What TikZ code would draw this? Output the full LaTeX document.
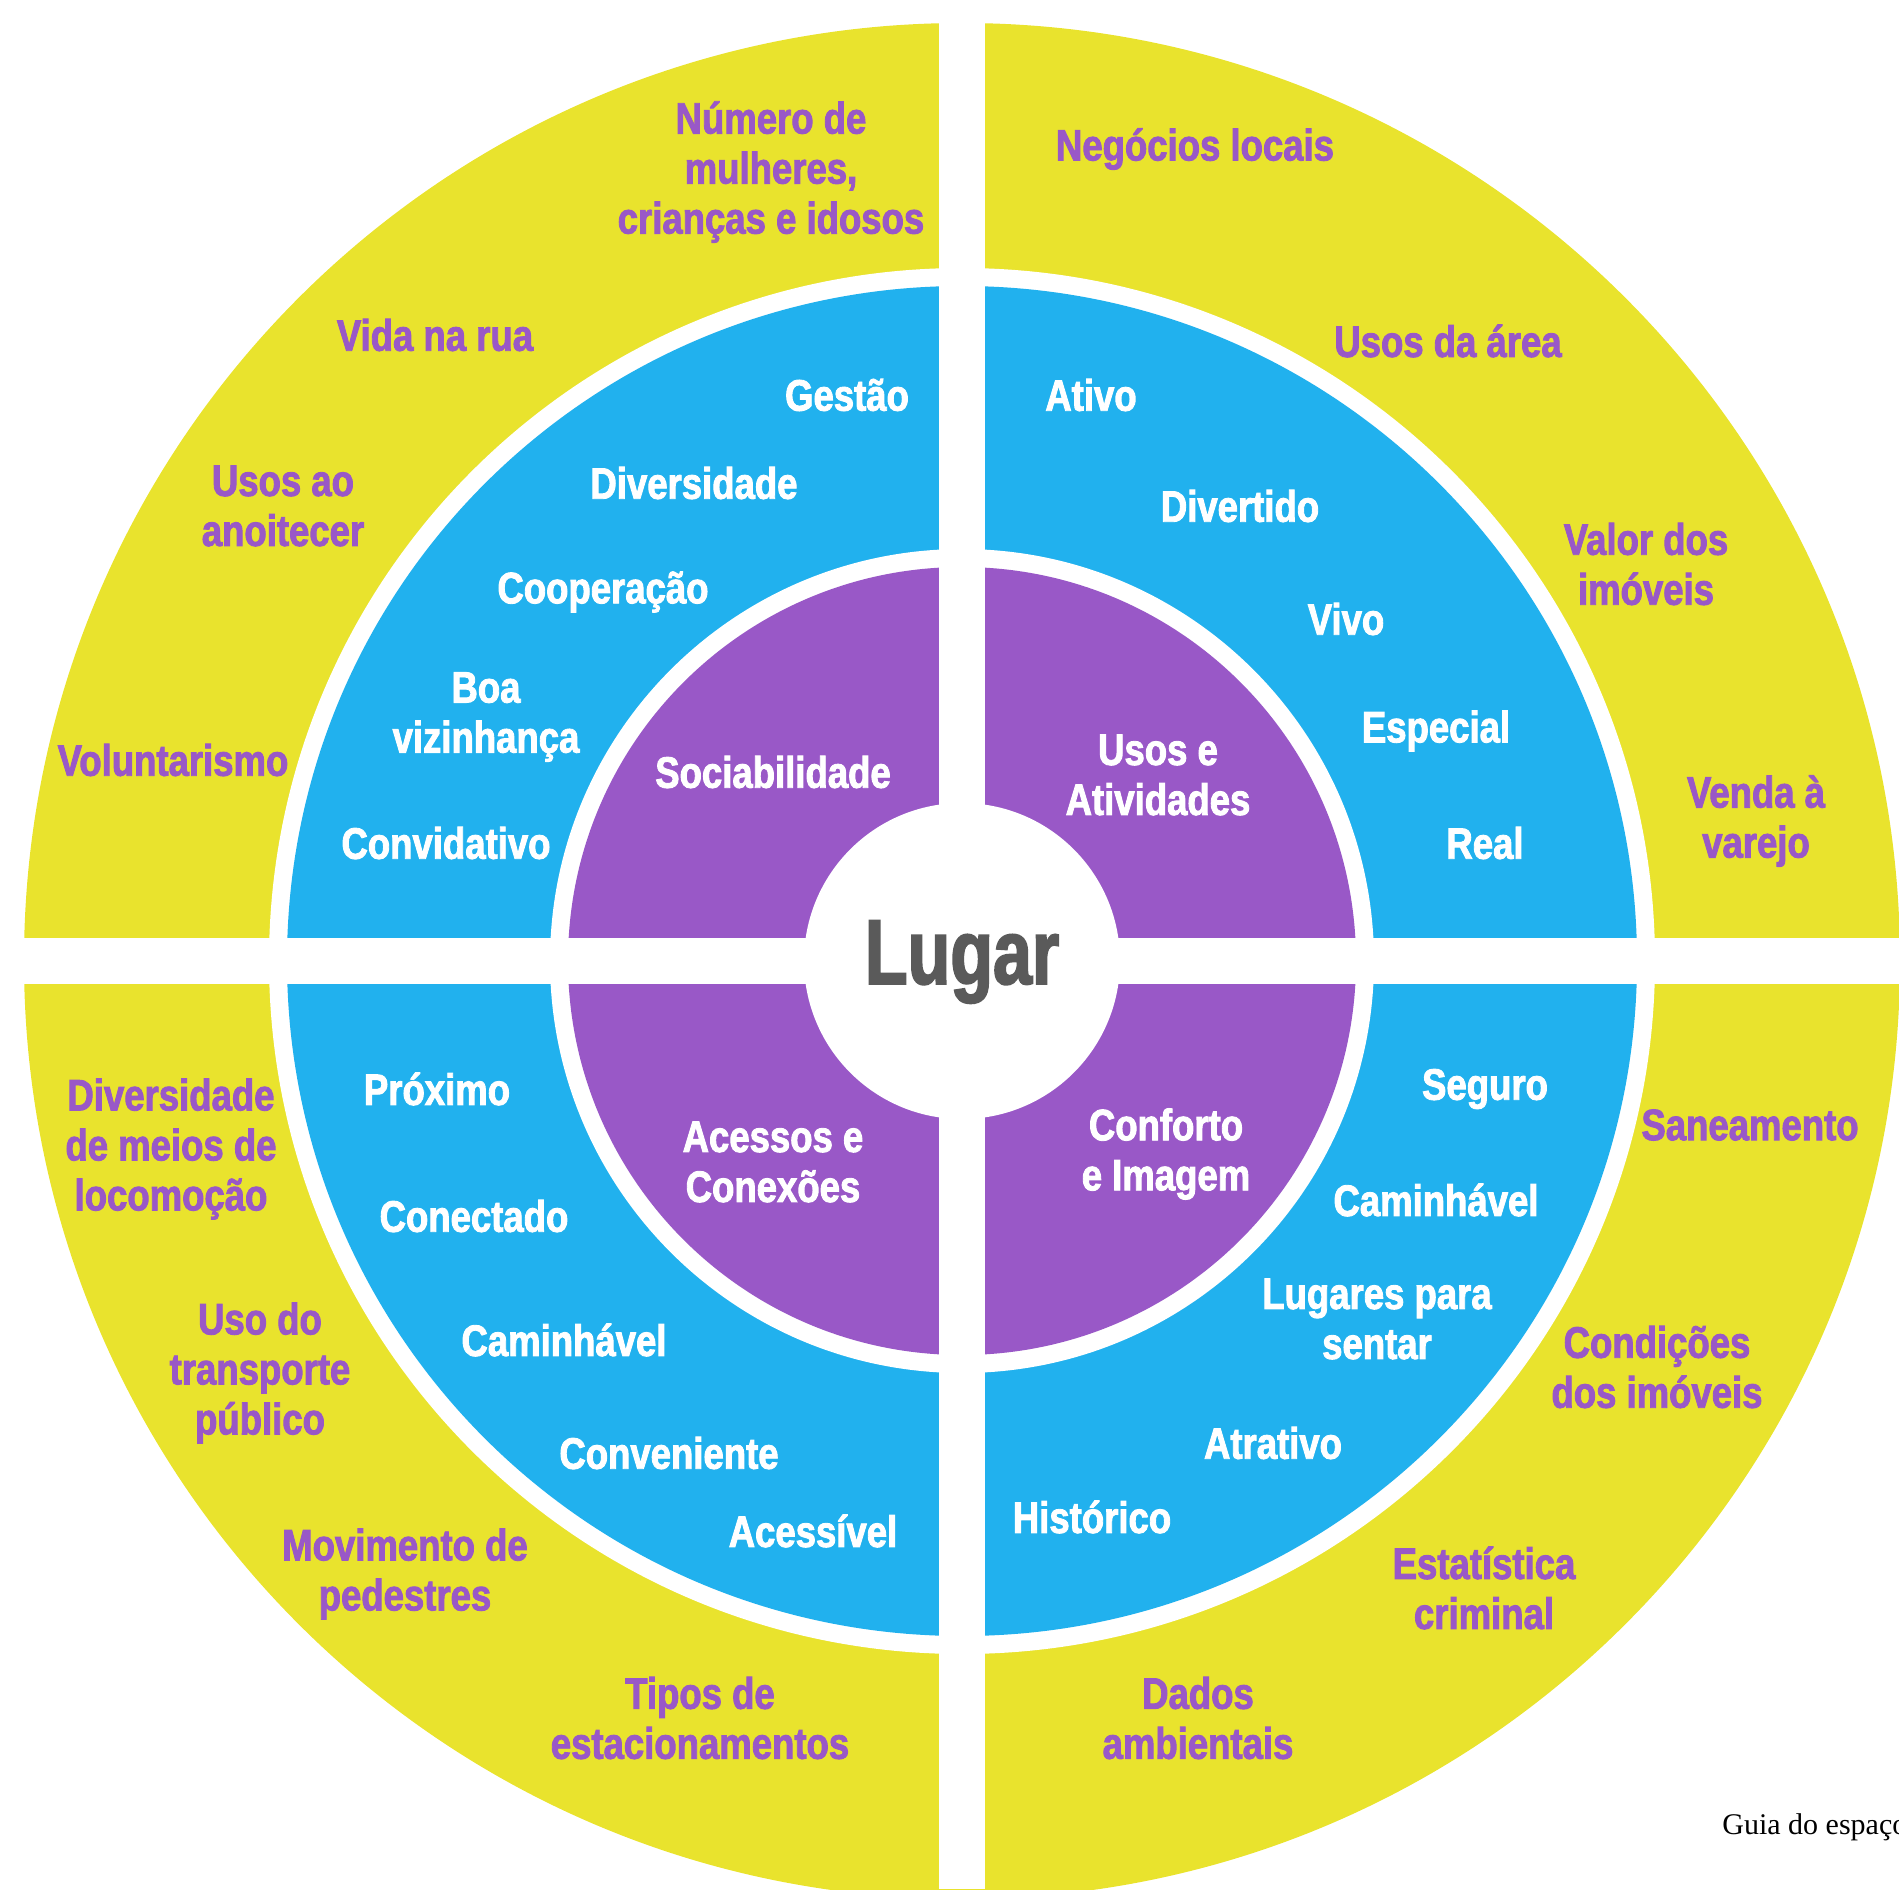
\documentclass[tikz,border=0pt]{standalone}
\usepackage{fontspec}
\setmainfont{Liberation Serif}
\newfontfamily\imp[FakeStretch=0.83,FakeBold=2]{Liberation Sans}
\newfontfamily\impl[FakeStretch=0.76,FakeBold=2]{Liberation Sans}
\definecolor{yel}{HTML}{E9E32D}
\definecolor{blu}{HTML}{21B1EE}
\definecolor{pur}{HTML}{9958C7}
\definecolor{gry}{HTML}{5A5A5A}
\tikzset{
  ylab/.style={align=center,text=pur,font=\imp\bfseries\fontsize{22}{25}\selectfont,inner sep=0pt,yshift=-0.5pt},
  blab/.style={align=center,text=white,font=\imp\bfseries\fontsize{22}{25}\selectfont,inner sep=0pt,yshift=-0.5pt},
  plab/.style={align=center,text=white,font=\imp\bfseries\fontsize{22}{25}\selectfont,inner sep=0pt,yshift=-0.5pt}
}
\begin{document}
\begin{tikzpicture}[x=0.5pt,y=-0.5pt]
\useasboundingbox (0,0) rectangle (1899,1889);
\clip (0,0) rectangle (1899,1889);
\coordinate (c) at (962,961);
\fill[yel] (c) circle[radius=938];
\fill[white] (c) circle[radius=693];
\fill[blu] (c) circle[radius=675];
\fill[white] (c) circle[radius=412];
\fill[pur] (c) circle[radius=394];
\fill[white] (939,0) rectangle (985,1889);
\fill[white] (0,938) rectangle (1899,984);
\fill[white] (c) circle[radius=158];
\node[text=gry,font=\impl\bfseries\fontsize{46}{50}\selectfont,inner sep=0pt] (lugar) at (962,962) {Lugar};
% yellow ring
\node[ylab] (y1) at (771,171) {Número de\\mulheres,\\crianças e idosos};
\node[ylab] (y2) at (1195,148) {Negócios locais};
\node[ylab] (y3) at (435,334) {Vida na rua};
\node[ylab] (y4) at (1448,340) {Usos da área};
\node[ylab] (y5) at (283,505) {Usos ao\\anoitecer};
\node[ylab] (y6) at (1646,563) {Valor dos\\imóveis};
\node[ylab] (y7) at (173,759) {Voluntarismo};
\node[ylab] (y8) at (1756,820) {Venda à\\varejo};
\node[ylab] (y9) at (171,1148) {Diversidade\\de meios de\\locomoção};
\node[ylab] (y10) at (1750,1124) {Saneamento};
\node[ylab] (y11) at (260,1372) {Uso do\\transporte\\público};
\node[ylab] (y12) at (1657,1366) {Condições\\dos imóveis};
\node[ylab] (y13) at (405,1573) {Movimento de\\pedestres};
\node[ylab] (y14) at (1484,1587) {Estatística\\criminal};
\node[ylab] (y15) at (700,1717) {Tipos de\\estacionamentos};
\node[ylab] (y16) at (1198,1717) {Dados\\ambientais};
% blue ring
\node[blab] (b1) at (847,394) {Gestão};
\node[blab] (b2) at (694,482) {Diversidade};
\node[blab] (b3) at (603,591) {Cooperação};
\node[blab] (b4) at (486,716) {Boa\\vizinhança};
\node[blab] (b5) at (446,842) {Convidativo};
\node[blab] (b6) at (1091,394) {Ativo};
\node[blab] (b7) at (1240,505) {Divertido};
\node[blab] (b8) at (1346,618) {Vivo};
\node[blab] (b9) at (1436,730) {Especial};
\node[blab] (b10) at (1485,842) {Real};
\node[blab] (b11) at (437,1088) {Próximo};
\node[blab] (b12) at (474,1215) {Conectado};
\node[blab] (b13) at (564,1339) {Caminhável};
\node[blab] (b14) at (669,1452) {Conveniente};
\node[blab] (b15) at (813,1530) {Acessível};
\node[blab] (b16) at (1485,1088) {Seguro};
\node[blab] (b17) at (1436,1199) {Caminhável};
\node[blab] (b18) at (1377,1318) {Lugares para\\sentar};
\node[blab] (b19) at (1273,1442) {Atrativo};
\node[blab] (b20) at (1092,1516) {Histórico};
% purple ring
\node[plab] (p1) at (773,771) {Sociabilidade};
\node[plab] (p2) at (1158,774) {Usos e\\Atividades};
\node[plab] (p3) at (773,1161) {Acessos e\\Conexões};
\node[plab] (p4) at (1166,1153) {Conforto\\e Imagem};
% caption
\node[anchor=west,inner sep=0pt,font=\fontsize{15}{17}\selectfont] (cap) at (1722,1827) {Guia do espaço};
\end{tikzpicture}
\end{document}
